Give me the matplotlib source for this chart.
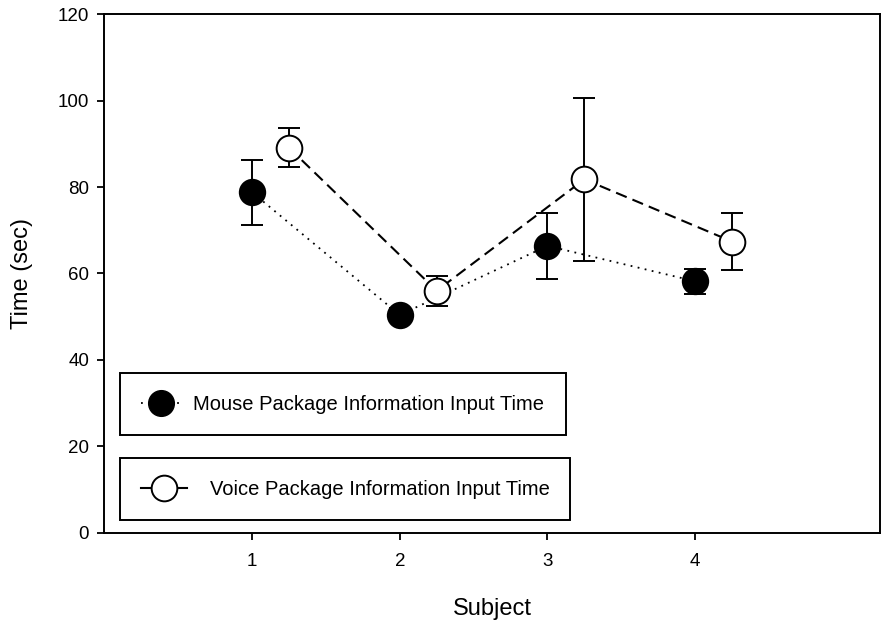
import matplotlib
matplotlib.use('Agg')
import matplotlib.pyplot as plt
from matplotlib.lines import Line2D

plt.rcParams['font.family'] = ['Liberation Sans', 'DejaVu Sans']

subjects = [1, 2, 3, 4]
mouse_time = [78.8, 50.4, 66.4, 58.2]
mouse_err = [7.5, 1.5, 7.6, 2.9]
voice_time = [89.1, 56.0, 81.8, 67.4]
voice_err = [4.5, 3.5, 18.8, 6.5]
offset = 0.25

fig = plt.figure(figsize=(8.85, 6.23), dpi=100)
ax = fig.add_axes([0.118, 0.145, 0.876, 0.832])

voice_x = [s + offset for s in subjects]

ax.errorbar(subjects, mouse_time, yerr=mouse_err, fmt='none', ecolor='black',
            elinewidth=1.4, capsize=8, capthick=1.4, zorder=2)
ax.errorbar(voice_x, voice_time, yerr=voice_err, fmt='none', ecolor='black',
            elinewidth=1.4, capsize=8, capthick=1.4, zorder=2)

ax.plot(subjects, mouse_time, color='black', lw=1.3, linestyle=(0, (1, 3)), zorder=3)
ax.plot(voice_x, voice_time, color='black', lw=1.5, linestyle=(0, (5.5, 3)), zorder=3)
ax.plot(subjects, mouse_time, 'o', ms=18.5, mfc='black', mec='black', mew=1.2, zorder=4)
ax.plot(voice_x, voice_time, 'o', ms=18.5, mfc='white', mec='black', mew=1.4, zorder=4)

ax.set_xlim(0, 5.25)
ax.set_ylim(0, 120)
ax.set_xticks(subjects)
ax.set_yticks(range(0, 121, 20))
ax.tick_params(direction='out', length=5, width=1.3, labelsize=13.5)
ax.tick_params(axis='y', pad=6)
ax.tick_params(axis='x', pad=10)
for sp in ax.spines.values():
    sp.set_linewidth(1.4)

ax.set_xlabel('Subject', fontsize=17, labelpad=20)
ax.set_ylabel('Time (sec)', fontsize=17, labelpad=18)

# two separate framed legend boxes
h_mouse = Line2D([], [], color='black', lw=1.3, linestyle=(0, (1, 3)),
                 marker='o', ms=18.5, mfc='black', mec='black')
h_voice = Line2D([], [], color='black', lw=1.5, linestyle='-',
                 marker='o', ms=18.5, mfc='white', mec='black', mew=1.4)

leg_kw = dict(loc='center', mode='expand', fontsize=14.5, frameon=True, fancybox=False,
              edgecolor='black', framealpha=1, borderpad=1.05, borderaxespad=0)
leg1 = ax.legend([h_mouse], ['Mouse Package Information Input Time'],
                 bbox_to_anchor=(0.02, 0.19, 0.576, 0.116),
                 handlelength=2.0, handletextpad=0.6, **leg_kw)
leg1._legend_box.align = 'left'
leg1.get_frame().set_linewidth(1.4)
ax.add_artist(leg1)
leg2 = ax.legend([h_voice], ['Voice Package Information Input Time'],
                 bbox_to_anchor=(0.02, 0.026, 0.581, 0.116),
                 handlelength=2.3, handletextpad=1.1, **leg_kw)
leg2.get_frame().set_linewidth(1.4)

fig.savefig('out.png', dpi=100)
